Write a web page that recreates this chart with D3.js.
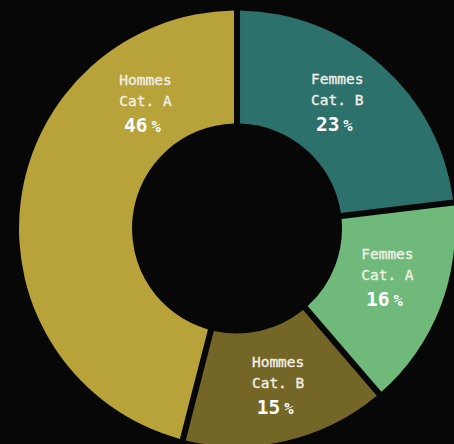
<!DOCTYPE html>
<html><head><meta charset="utf-8">
<script src="https://cdn.jsdelivr.net/npm/d3@7"></script>
<style>
html,body{margin:0;padding:0;background:#070707;overflow:hidden;}
svg{display:block;}
</style></head>
<body>
<script>
const categories = ["Femmes Cat. B", "Femmes Cat. A", "Hommes Cat. B", "Hommes Cat. A"];
const lineOne = ["Femmes", "Femmes", "Hommes", "Hommes"];
const lineTwo = ["Cat. B", "Cat. A", "Cat. B", "Cat. A"];
const values = [23.1, 15.6, 15.3, 46.0];
const colors = ["#2c716b", "#6fba7a", "#746627", "#b8a23a"];
const labelFrac = [0.46, 0.44, 0.47, 0.783];
const labelRad = [162, 158, 161, 156];

const W = 454, H = 444;
const cx = 237, cy = 228.5, rIn = 105, rOut = 218;

const svg = d3.select("body").append("svg").attr("width", W).attr("height", H);
svg.append("rect").attr("width", W).attr("height", H).attr("fill", "#070707");
const g = svg.append("g").attr("transform", `translate(${cx},${cy})`);

const data = categories.map((c, i) => ({c, v: values[i], i}));
const pie = d3.pie().value(d => d.v).sort(null).startAngle(0).endAngle(2 * Math.PI);
const arcs = pie(data);
const arc = d3.arc().innerRadius(rIn).outerRadius(rOut).padAngle(0.025);

g.selectAll("path.slice").data(arcs).join("path")
  .attr("class", "slice")
  .attr("d", arc)
  .attr("fill", d => colors[d.data.i]);

const labels = g.selectAll("g.lab").data(arcs).join("g").attr("class", "lab")
  .attr("transform", d => {
    const a = d.startAngle + (d.endAngle - d.startAngle) * labelFrac[d.data.i];
    const r = labelRad[d.data.i];
    return `translate(${Math.sin(a) * r},${-Math.cos(a) * r})`;
  });

function nameText(sel, y, fn) {
  sel.append("text").attr("y", y).attr("text-anchor", "middle")
    .attr("font-family", "DejaVu Sans Mono").attr("font-size", 14.5)
    .attr("fill", "#f1efe6").attr("stroke", "#f1efe6").attr("stroke-width", 0.35)
    .text(fn);
}
nameText(labels, -17.5, d => lineOne[d.data.i]);
nameText(labels, 3.5, d => lineTwo[d.data.i]);
const num = labels.append("text").attr("y", 29.5).attr("x", -3).attr("text-anchor", "middle")
  .attr("font-family", "DejaVu Sans Mono").attr("fill", "#ffffff").attr("font-weight", "bold");
num.append("tspan").attr("font-size", 19.5).text(d => Math.round(d.data.v));
num.append("tspan").attr("font-size", 15.5).attr("dx", 4).text("%");
</script>
</body></html>
